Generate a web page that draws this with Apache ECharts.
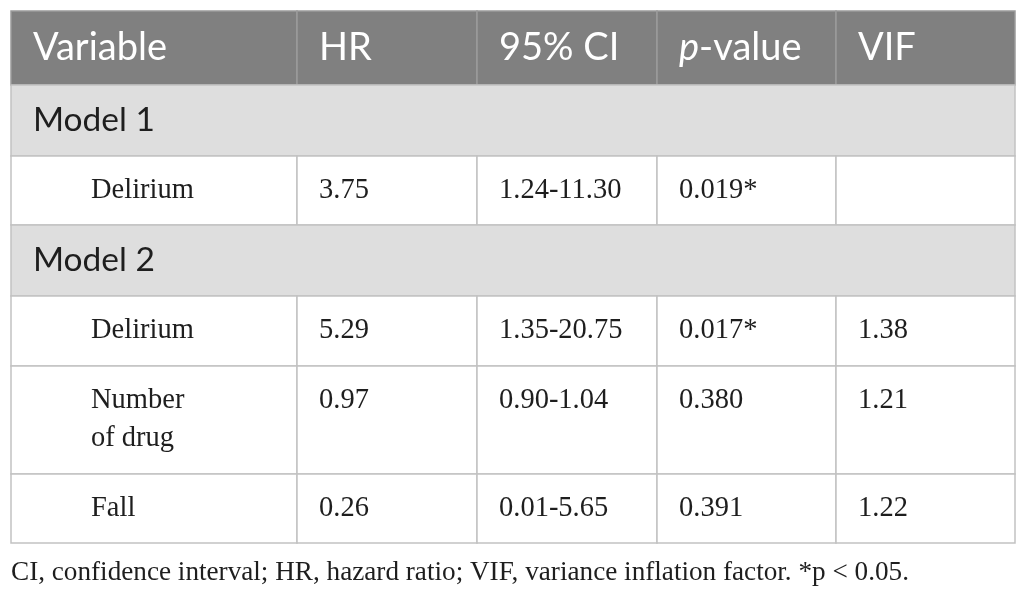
<!DOCTYPE html>
<html>
<meta charset="UTF-8">
<title>hazard-table</title>
<style type="text/css">
    html,
    body {
        margin: 0px;
        width: 100%;
        height: 100%;
        background: #ffffff;
    }

    #chart {
        width: 1026px;
        height: 597px;
    }
</style>
<script src="https://cdn.jsdelivr.net/npm/echarts@6/dist/echarts.min.js"></script>

<body>
    <div id="chart"></div>
    <script>

        // table content
        const headers = ['Variable', 'HR', '95% CI', 'p-value', 'VIF'];
        const rowLabels = ['Model 1', 'Delirium', 'Model 2', 'Delirium', 'Number\nof drug', 'Fall'];
        const groupRows = [true, false, true, false, false, false];
        const hr = ['', '3.75', '', '5.29', '0.97', '0.26'];
        const ci = ['', '1.24-11.30', '', '1.35-20.75', '0.90-1.04', '0.01-5.65'];
        const pValue = ['', '0.019*', '', '0.017*', '0.380', '0.391'];
        const vif = ['', '', '', '1.38', '1.21', '1.22'];
        const note = 'CI, confidence interval; HR, hazard ratio; VIF, variance inflation factor. *p < 0.05.';

        // layout (axis units)
        const colEdges = [0, 286, 466, 646, 825, 1004];
        const rowEdges = [0, 74, 145, 214, 285, 355, 463, 532];

        const sans = 'Lato';
        const serif = '"Liberation Serif"';

        const cells = [];
        headers.forEach((h, c) => cells.push([c, 0, h, 'head', c + 1]));
        rowLabels.forEach((label, i) => {
            const r = i + 1;
            if (groupRows[i]) {
                cells.push([0, r, label, 'group', 5]);
                return;
            }
            [label, hr[i], ci[i], pValue[i], vif[i]].forEach((v, c) => {
                cells.push([c, r, v, 'body', c + 1]);
            });
        });

        function renderItem(params, api) {
            const c = api.value(0);
            const r = api.value(1);
            const c2 = api.value(4);
            const d = cells[params.dataIndex];
            const kind = d[3];
            const text = d[2];
            const p0 = api.coord([colEdges[c], rowEdges[r]]);
            const p1 = api.coord([colEdges[c2], rowEdges[r + 1]]);
            let fill = '#ffffff', stroke = '#c2c2c2';
            if (kind === 'head') { fill = '#808080'; stroke = '#9a9a9a'; }
            if (kind === 'group') { fill = '#dedede'; }
            let tx = p0[0] + 22;
            if (kind === 'body' && c === 0) tx = p0[0] + 80;
            let fs = 28.5, lh = 38, font = serif;
            if (kind === 'head') { fs = 38; lh = 46; font = sans; }
            if (kind === 'group') { fs = 33.5; lh = 42; font = sans; }
            const textStyle = {
                text: text === 'p-value' ? '{it|p}-value' : text,
                x: tx,
                y: p0[1] + (kind === 'head' ? 37 : 35) - lh / 2,
                fill: kind === 'head' ? '#ffffff' : '#1e1e1e',
                fontFamily: font,
                fontSize: fs,
                lineHeight: lh,
                align: 'left',
                verticalAlign: 'top',
                rich: {
                    it: { fontStyle: 'italic', fontFamily: sans, fontSize: fs, fill: '#ffffff', lineHeight: lh }
                }
            };
            return {
                type: 'group',
                children: [
                    {
                        type: 'rect',
                        shape: { x: p0[0], y: p0[1], width: p1[0] - p0[0], height: p1[1] - p0[1] },
                        style: { fill: fill, stroke: stroke, lineWidth: 1.5 }
                    },
                    { type: 'text', style: textStyle }
                ]
            };
        }

        const chart = echarts.init(document.querySelector('#chart'));
        const options = {
            animation: false,
            title: {
                text: note,
                left: 11,
                top: 559,
                padding: 0,
                textStyle: { fontFamily: serif, fontSize: 27.2, fontWeight: 'normal', color: '#1e1e1e' }
            },
            grid: { left: 11, top: 11, width: 1004, height: 532 },
            xAxis: { type: 'value', min: 0, max: 1004, show: false },
            yAxis: { type: 'value', min: 0, max: 532, inverse: true, show: false },
            series: [
                {
                    type: 'custom',
                    renderItem: renderItem,
                    data: cells,
                    encode: { x: 0, y: 1 }
                }
            ]
        };
        chart.setOption(options);

    </script>
</body>

</html>
